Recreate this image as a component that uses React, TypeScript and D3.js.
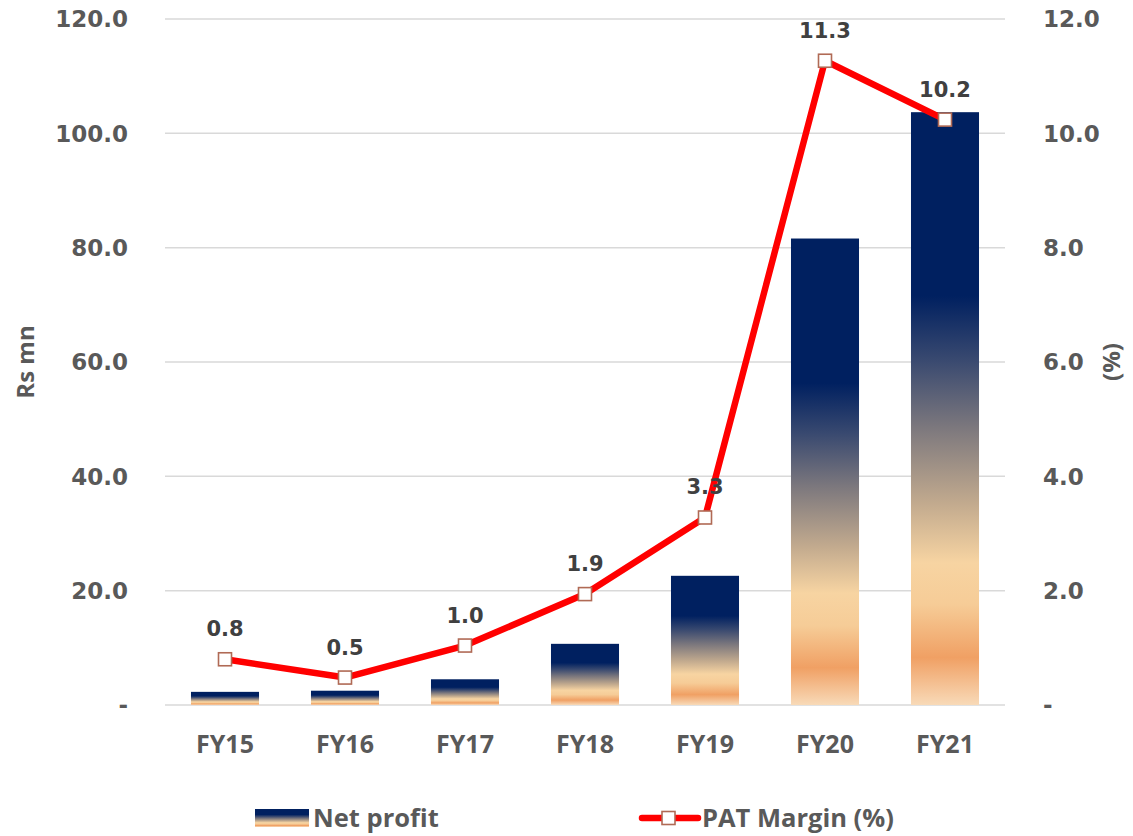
import React from "react";
import * as d3 from "d3";

const categories = ["FY15", "FY16", "FY17", "FY18", "FY19", "FY20", "FY21"];
const netProfit = [2.3, 2.5, 4.5, 10.7, 22.6, 81.6, 103.7];
const patMargin = [0.8, 0.48, 1.04, 1.94, 3.28, 11.27, 10.24];
const patLabels = ["0.8", "0.5", "1.0", "1.9", "3.3", "11.3", "10.2"];
const leftTicks = [0, 20, 40, 60, 80, 100, 120];
const rightTicks = [0, 2, 4, 6, 8, 10, 12];

const W = 1133;
const H = 836;
const M = { left: 165, right: 1005, top: 19, bottom: 705 };

const gradStops: [number, string][] = [
  [0, "#002060"],
  [0.31, "#002060"],
  [0.42, "#3a4a70"],
  [0.53, "#7b777d"],
  [0.66, "#c2aa8e"],
  [0.76, "#f7d4a2"],
  [0.83, "#f6cc97"],
  [0.92, "#f0a064"],
  [1, "#f8dab8"],
];

const fmtTick = (v: number) => (v === 0 ? "-" : v.toFixed(1));

export default function App() {
  const x = d3
    .scaleBand<string>()
    .domain(categories)
    .range([M.left, M.right])
    .paddingInner(0.433)
    .paddingOuter(0.2165);
  const yL = d3.scaleLinear().domain([0, 120]).range([M.bottom, M.top]);
  const yR = d3.scaleLinear().domain([0, 12]).range([M.bottom, M.top]);

  const line = d3
    .line<number>()
    .x((_, i) => (x(categories[i]) as number) + x.bandwidth() / 2)
    .y((d) => yR(d));

  const tickFont = "'DejaVu Sans', Verdana, sans-serif";
  const textFont = "'Open Sans', 'Noto Sans', sans-serif";
  const grey = "#595959";

  return (
    <div style={{ position: "absolute", left: 0, top: 0 }}>
      <svg width={W} height={H} style={{ display: "block", background: "#fff" }}>
        <defs>
          <linearGradient id="barGrad" x1="0" y1="0" x2="0" y2="1">
            {gradStops.map(([o, c], i) => (
              <stop key={i} offset={o} stopColor={c} />
            ))}
          </linearGradient>
        </defs>

        {/* gridlines */}
        {leftTicks.map((t) => (
          <line
            key={t}
            x1={M.left}
            x2={M.right}
            y1={yL(t)}
            y2={yL(t)}
            stroke="#d9d9d9"
            strokeWidth={1.5}
          />
        ))}

        {/* bars */}
        {netProfit.map((v, i) => (
          <rect
            key={categories[i]}
            x={x(categories[i])}
            y={yL(v)}
            width={x.bandwidth()}
            height={yL(0) - yL(v)}
            fill="url(#barGrad)"
          />
        ))}

        {/* left axis ticks */}
        {leftTicks.map((t) => (
          <text
            key={t}
            x={128}
            y={yL(t)}
            dy="0.36em"
            textAnchor="end"
            fontFamily={tickFont}
            fontWeight="bold"
            fontSize={23}
            fill={grey}
          >
            {fmtTick(t)}
          </text>
        ))}

        {/* right axis ticks */}
        {rightTicks.map((t) => (
          <text
            key={t}
            x={1043}
            y={yR(t)}
            dy="0.36em"
            textAnchor="start"
            fontFamily={tickFont}
            fontWeight="bold"
            fontSize={23}
            fill={grey}
          >
            {fmtTick(t)}
          </text>
        ))}

        {/* category labels */}
        {categories.map((c) => (
          <text
            key={c}
            x={(x(c) as number) + x.bandwidth() / 2}
            y={753}
            textAnchor="middle"
            fontFamily={textFont}
            fontWeight={700}
            fontSize={25}
            fill={grey}
          >
            {c}
          </text>
        ))}

        {/* axis titles */}
        <text
          transform={`translate(34,${362}) rotate(-90)`}
          textAnchor="middle"
          fontFamily={textFont}
          fontWeight={700}
          fontSize={24}
          fill={grey}
        >
          Rs mn
        </text>
        <text
          transform={`translate(1120,${362}) rotate(-90)`}
          textAnchor="middle"
          fontFamily={textFont}
          fontWeight={700}
          fontSize={24}
          fill={grey}
        >
          (%)
        </text>

        {/* line */}
        <path
          d={line(patMargin) || ""}
          fill="none"
          stroke="#ff0000"
          strokeWidth={6.5}
          strokeLinejoin="round"
        />
        {patMargin.map((v, i) => {
          const cx = (x(categories[i]) as number) + x.bandwidth() / 2;
          const cy = yR(v);
          return (
            <g key={categories[i]}>
              <rect
                x={cx - 6.5}
                y={cy - 6.5}
                width={13}
                height={13}
                fill="#fff"
                stroke="#b06a55"
                strokeWidth={1.6}
              />
              <text
                x={cx}
                y={cy - 23}
                textAnchor="middle"
                fontFamily={tickFont}
                fontWeight="bold"
                fontSize={21}
                fill="#404040"
              >
                {patLabels[i]}
              </text>
            </g>
          );
        })}

        {/* legend */}
        <rect x={255} y={809} width={54} height={18} fill="url(#barGrad)" />
        <text x={313} y={827} fontFamily={textFont} fontWeight={700} fontSize={25.5} fill={grey}>
          Net profit
        </text>
        <line x1={642} x2={698} y1={818} y2={818} stroke="#ff0000" strokeWidth={6.5} strokeLinecap="round" />
        <rect x={662} y={811.5} width={13} height={13} fill="#fff" stroke="#b06a55" strokeWidth={1.6} />
        <text x={702} y={827} fontFamily={textFont} fontWeight={700} fontSize={25.5} fill={grey}>
          PAT Margin (%)
        </text>
      </svg>
    </div>
  );
}
